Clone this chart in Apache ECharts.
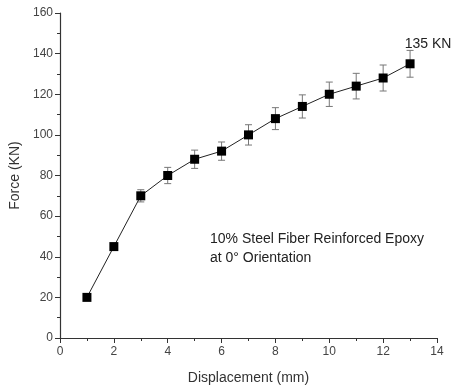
<!DOCTYPE html>
<html>
<head>
<meta charset="utf-8">
<script src="https://cdn.jsdelivr.net/npm/echarts@6/dist/echarts.min.js"></script>
<style>
html,body{margin:0;padding:0;background:#fff;}
#chart{width:453px;height:392px;}
</style>
</head>
<body>
<div id="chart"></div>
<script>
var displacement = [1, 2, 3, 4, 5, 6, 7, 8, 9, 10, 11, 12, 13];
var force = [20, 45, 70, 80, 88, 92, 100, 108, 114, 120, 124, 128, 135];
var err = [0, 1.5, 3, 4, 4.5, 4.5, 5, 5.4, 5.7, 6, 6.3, 6.4, 6.6];
var xTicks = [0, 2, 4, 6, 8, 10, 12, 14];
var yTicks = [0, 20, 40, 60, 80, 100, 120, 140, 160];
var peakLabel = '135 KN';

var font = 'Liberation Sans, Arial, sans-serif';
var pts = [];
var errData = [];
for (var i = 0; i < displacement.length; i++) {
	pts.push([displacement[i], force[i]]);
	errData.push([displacement[i], force[i] - err[i], force[i] + err[i]]);
}
var last = pts.length - 1;
pts[last] = {
	value: pts[last],
	label: {
		show: true,
		position: 'top',
		formatter: peakLabel,
		fontFamily: font, fontSize: 14, color: '#222',
		offset: [18, -3]
	}
};

var my_chart = echarts.init(document.getElementById('chart'));
my_chart.setOption({
	animation: false,
	grid: {left: 59, right: 16, top: 13, bottom: 54},
	xAxis: {
		type: 'value',
		min: 0, max: 14, interval: 2,
		name: 'Displacement (mm)',
		nameLocation: 'middle',
		nameGap: 33,
		nameTextStyle: {fontFamily: font, fontSize: 14, color: '#333'},
		axisLine: {lineStyle: {color: '#333', width: 1.2}},
		axisTick: {inside: false, length: 5, lineStyle: {color: '#333'}},
		minorTick: {show: true, splitNumber: 2, length: 3, lineStyle: {color: '#333'}},
		axisLabel: {fontFamily: font, fontSize: 12, color: '#444', margin: 8},
		splitLine: {show: false}
	},
	yAxis: {
		type: 'value',
		min: 0, max: 160, interval: 20,
		name: 'Force (KN)',
		nameLocation: 'middle',
		nameGap: 38,
		nameTextStyle: {fontFamily: font, fontSize: 14, color: '#333'},
		axisLine: {show: true, lineStyle: {color: '#333', width: 1.2}},
		axisTick: {show: true, inside: false, length: 5, lineStyle: {color: '#333'}},
		minorTick: {show: true, splitNumber: 2, length: 3, lineStyle: {color: '#333'}},
		axisLabel: {fontFamily: font, fontSize: 12, color: '#444', margin: 7},
		splitLine: {show: false}
	},
	series: [
		{
			type: 'custom',
			z: 1,
			data: errData,
			renderItem: function (params, api) {
				var lo = api.coord([api.value(0), api.value(1)]);
				var hi = api.coord([api.value(0), api.value(2)]);
				var w = 3.5;
				var st = {stroke: '#777', lineWidth: 1};
				return {
					type: 'group',
					children: [
						{type: 'line', shape: {x1: lo[0], y1: lo[1], x2: hi[0], y2: hi[1]}, style: st},
						{type: 'line', shape: {x1: lo[0] - w, y1: lo[1], x2: lo[0] + w, y2: lo[1]}, style: st},
						{type: 'line', shape: {x1: hi[0] - w, y1: hi[1], x2: hi[0] + w, y2: hi[1]}, style: st}
					]
				};
			}
		},
		{
			type: 'line',
			z: 2,
			data: pts,
			symbol: 'rect',
			symbolSize: 9,
			lineStyle: {color: '#222', width: 1},
			itemStyle: {color: '#000'}
		}
	],
	graphic: [
		{
			type: 'text',
			left: 210,
			top: 230,
			style: {
				text: '10% Steel Fiber Reinforced Epoxy\nat 0\u00b0 Orientation',
				fontFamily: font, fontSize: 14, fill: '#222', lineHeight: 19
			}
		}
	]
});
</script>
</body>
</html>
